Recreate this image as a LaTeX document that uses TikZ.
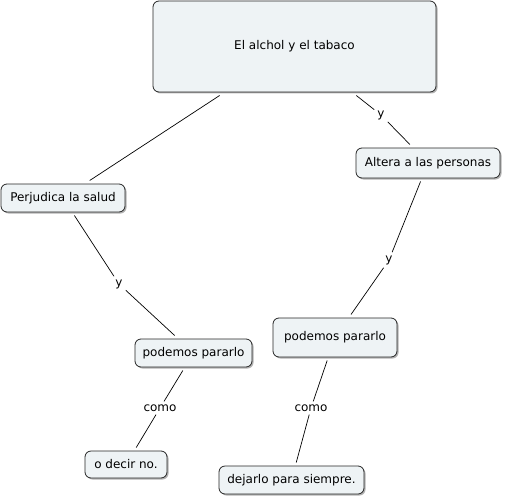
\documentclass[tikz,border=0pt]{standalone}
\usepackage{fontspec}
\setmainfont{DejaVu Sans}
\usetikzlibrary{shadows}
\definecolor{boxfill}{RGB}{238,243,245}
\tikzset{
  concept/.style={draw=black!85, line width=0.8pt, fill=boxfill, rounded corners=6pt,
    font=\fontsize{12}{14}\selectfont, inner sep=0pt, outer sep=3.5pt,
    drop shadow={shadow xshift=1.5pt, shadow yshift=-1.5pt, opacity=0.3, fill=black}},
  linklabel/.style={font=\fontsize{12}{14}\selectfont, inner sep=3pt},
  conn/.style={line width=0.7pt, black}
}
\begin{document}
\begin{tikzpicture}[x=1pt,y=-1pt]
\useasboundingbox (0,0) rectangle (505,500);
\node[concept, minimum width=283pt, minimum height=91pt] (top) at (294.5,46.5) {El alchol y el tabaco};
\node[concept, minimum width=124pt, minimum height=28pt] (perj) at (63,198) {Perjudica la salud};
\node[concept, minimum width=144pt, minimum height=30pt] (alt) at (428,163) {Altera a las personas};
\node[concept, minimum width=117pt, minimum height=28pt] (podl) at (193.5,353) {podemos pararlo};
\node[concept, minimum width=124pt, minimum height=39pt] (podr) at (335,337.5) {podemos pararlo};
\node[concept, minimum width=82pt, minimum height=27pt] (dec) at (126,464.5) {o decir no.};
\node[concept, minimum width=145pt, minimum height=28pt] (dej) at (291.5,480) {dejarlo para siempre.};
\node[linklabel] (l1) at (381,115) {y};
\node[linklabel] (l2) at (119,284) {y};
\node[linklabel] (l3) at (389,260) {y};
\node[linklabel] (l4) at (160,408) {como};
\node[linklabel] (l5) at (311,408) {como};
\draw[conn] (top) -- (perj);
\draw[conn] (top) -- (l1) -- (alt);
\draw[conn] (perj) -- (l2) -- (podl);
\draw[conn] (alt) -- (l3) -- (podr);
\draw[conn] (podl) -- (l4) -- (dec);
\draw[conn] (podr) -- (l5) -- (dej);
\end{tikzpicture}
\end{document}
